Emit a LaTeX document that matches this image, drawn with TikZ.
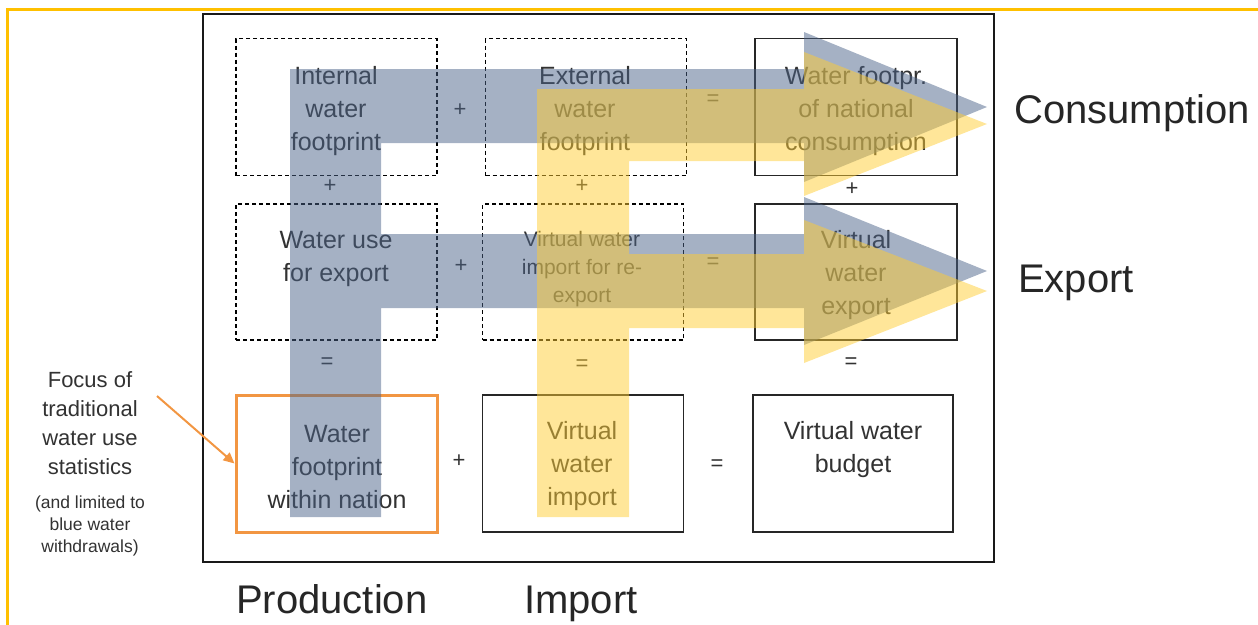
\documentclass[tikz,border=0pt]{standalone}
\usepackage{fontspec}
\setmainfont{Liberation Sans}
\usetikzlibrary{arrows.meta}
\definecolor{frameyel}{RGB}{255,192,0}
\definecolor{bluearr}{RGB}{75,99,137}
\definecolor{yelarr}{RGB}{255,205,51}
\definecolor{orng}{RGB}{242,150,66}
\definecolor{txt}{RGB}{50,50,50}
\definecolor{bigtxt}{RGB}{38,38,38}
\begin{document}
\begin{tikzpicture}[x=1pt,y=-1pt,
  dbox/.style={draw=black, line width=1.1pt, dash pattern=on 4pt off 3pt, minimum width=201pt, minimum height=137pt, inner sep=0pt},
  sbox/.style={draw=black!85, line width=1.3pt, minimum width=201pt, minimum height=137pt, inner sep=0pt},
  obox/.style={draw=orng, line width=3pt, minimum width=201pt, minimum height=137pt, inner sep=0pt},
  boxtext/.style={align=center, text=txt, inner sep=0pt, font=\fontsize{25}{33}\selectfont},
  smalltext/.style={align=center, text=txt, inner sep=0pt, font=\fontsize{21}{28}\selectfont},
  optext/.style={text=txt, inner sep=0pt, font=\fontsize{22}{22}\selectfont},
  bigtext/.style={text=bigtxt, inner sep=0pt, anchor=base west, font=\fontsize{40}{40}\selectfont},
  blueflow/.style={fill=bluearr, fill opacity=0.5},
  yelflow/.style={fill=yelarr, fill opacity=0.5}
]
\useasboundingbox (0,0) rectangle (1258,624);
% yellow page frame
\draw[frameyel, line width=3pt] (7,630) -- (7,9) -- (1262,9);
% outer frame
\node[draw=black!90, line width=1.4pt, minimum width=791pt, minimum height=548pt, inner sep=0pt] (frame) at (598.5,288) {};
% boxes
\node[dbox] (b11) at (336.5,107) {};
\node[dbox] (b12) at (586,107) {};
\node[sbox, minimum width=202pt] (b13) at (856,107) {};
\node[dbox, minimum height=136pt] (b21) at (336.5,272) {};
\node[dbox, minimum height=136pt] (b22) at (583,272) {};
\node[sbox, minimum width=202pt, minimum height=136pt] (b23) at (856,272) {};
\node[obox] (b31) at (336.5,463.5) {};
\node[sbox] (b32) at (583,463.5) {};
\node[sbox, minimum width=200pt] (b33) at (853,463.5) {};
% box texts
\node[boxtext] (t11) at (336,111) {Internal\\water\\footprint};
\node[boxtext] (t12) at (585,111) {External\\water\\footprint};
\node[boxtext] (t13) at (856,111) {Water footpr.\\of national\\consumption};
\node[boxtext] (t21) at (336,259) {Water use\\for export};
\node[smalltext] (t22) at (582,269) {Virtual water\\import for re-\\export};
\node[boxtext] (t23) at (856,275) {Virtual\\water\\export};
\node[boxtext] (t31) at (337,467) {Water\\footprint\\within nation};
\node[boxtext] (t32) at (582,466) {Virtual\\water\\import};
\node[boxtext] (t33) at (853,450) {Virtual water\\budget};
% operators
\node[optext] (o1) at (460,110) {+};
\node[optext] (o2) at (713,100) {=};
\node[optext] (o3) at (330,186) {+};
\node[optext] (o4) at (582,186) {+};
\node[optext] (o5) at (852,189) {+};
\node[optext] (o6) at (461,266) {+};
\node[optext] (o7) at (713,263) {=};
\node[optext] (o8) at (327,363) {=};
\node[optext] (o9) at (582,365) {=};
\node[optext] (o10) at (851,363) {=};
\node[optext] (o11) at (459,461) {+};
\node[optext] (o12) at (717,465) {=};
% flows
\path[blueflow] (290,517) -- (290,69) -- (804,69) -- (804,32) -- (987,107) -- (804,182) -- (804,143)
  -- (381,143) -- (381,234) -- (804,234) -- (804,197) -- (987,271) -- (804,345) -- (804,308)
  -- (381,308) -- (381,517) -- cycle;
\path[yelflow] (537,517) -- (537,89) -- (804,89) -- (804,52) -- (987,124) -- (804,196) -- (804,161)
  -- (629,161) -- (629,254) -- (804,254) -- (804,220) -- (987,291) -- (804,363) -- (804,328)
  -- (629,328) -- (629,517) -- cycle;
% big labels
\node[bigtext] (consumption) at (1014,123) {Consumption};
\node[bigtext] (export) at (1018,292) {Export};
\node[bigtext] (production) at (236,613) {Production};
\node[bigtext] (import) at (524,613) {Import};
% left annotation
\node[align=center, text=txt, inner sep=0pt, font=\fontsize{22}{29}\selectfont] (focus) at (90,423) {Focus of\\traditional\\water use\\statistics};
\node[align=center, text=txt, inner sep=0pt, font=\fontsize{17.5}{22}\selectfont] (limited) at (90,526) {(and limited to\\blue water\\withdrawals)};
\coordinate (fstart) at (157,396);
\draw[orng, line width=2pt, -{Triangle[length=11pt,width=10pt]}] (fstart) -- (b31.west);
\end{tikzpicture}
\end{document}
